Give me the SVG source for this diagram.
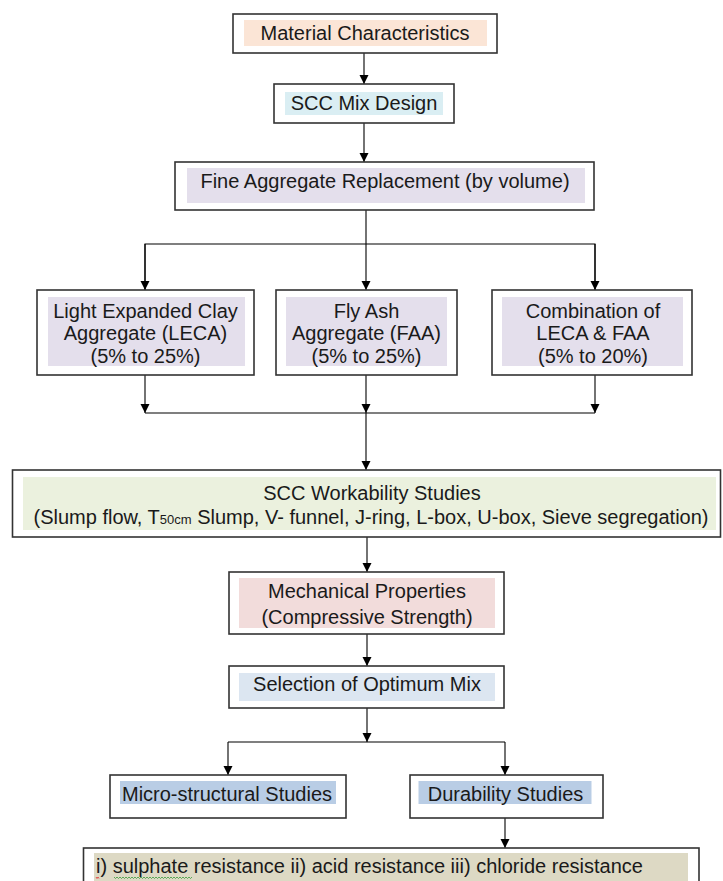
<svg xmlns="http://www.w3.org/2000/svg" width="723" height="881" viewBox="0 0 723 881">
  <defs>
    <marker id="arr" viewBox="0 0 10 10" markerWidth="9" markerHeight="10" markerUnits="userSpaceOnUse" refX="10" refY="5" orient="auto">
      <path d="M0,0 L10,5 L0,10 z" fill="#000"/>
    </marker>
    <style>
      .box { fill: #ffffff; stroke: #333333; stroke-width: 1.6; }
      .t { font-family: "Liberation Sans", Arial, sans-serif; font-size: 20px; fill: #1a1a1a; text-anchor: middle; }
      .c { fill: none; stroke: #000000; stroke-width: 1.1; }
      .ca { fill: none; stroke: #000000; stroke-width: 1.1; marker-end: url(#arr); }
      .peach { fill: #FBE5D6; }
      .lblue { fill: #DAEEF3; }
      .lav { fill: #E4DFEC; }
      .green { fill: #EBF1DE; }
      .pink { fill: #F2DCDB; }
      .sblue { fill: #DCE6F1; }
      .dblue { fill: #B9CDE5; }
      .tan { fill: #DDD9C4; }
    </style>
  </defs>
  <rect width="723" height="881" fill="#ffffff"/>

  <g id="connectors">
    <line class="ca" x1="364" y1="53" x2="364" y2="84"/>
    <line class="ca" x1="364" y1="123" x2="364" y2="162"/>
    <line class="ca" x1="366" y1="210" x2="366" y2="290"/>
    <polyline class="c" points="145,290 145,244 595,244 595,290"/>
    <line class="ca" x1="145" y1="244" x2="145" y2="290"/>
    <line class="ca" x1="595" y1="244" x2="595" y2="290"/>
    <line class="ca" x1="145" y1="375" x2="145" y2="413"/>
    <line class="ca" x1="366" y1="375" x2="366" y2="413"/>
    <line class="ca" x1="595" y1="375" x2="595" y2="413"/>
    <line class="c" x1="145" y1="413" x2="595" y2="413"/>
    <line class="ca" x1="366" y1="413" x2="366" y2="470"/>
    <line class="ca" x1="367" y1="537" x2="367" y2="572"/>
    <line class="ca" x1="367" y1="634" x2="367" y2="666"/>
    <line class="ca" x1="367" y1="708" x2="367" y2="742"/>
    <line class="c" x1="228" y1="742" x2="505" y2="742"/>
    <line class="ca" x1="228" y1="742" x2="228" y2="775"/>
    <line class="ca" x1="505" y1="742" x2="505" y2="775"/>
    <line class="ca" x1="505" y1="818" x2="505" y2="848"/>
  </g>

  <g id="material">
    <rect class="box" x="233" y="14" width="264" height="39"/>
    <rect class="peach" x="244" y="20" width="243" height="26"/>
    <text class="t" x="365" y="40">Material Characteristics</text>
  </g>

  <g id="mix-design">
    <rect class="box" x="274" y="84" width="180" height="39"/>
    <rect class="lblue" x="285" y="92" width="158" height="23"/>
    <text class="t" x="364" y="110">SCC Mix Design</text>
  </g>

  <g id="fine-aggregate">
    <rect class="box" x="175" y="162" width="419" height="48"/>
    <rect class="lav" x="187" y="168" width="398" height="35"/>
    <text class="t" x="385" y="188">Fine Aggregate Replacement (by volume)</text>
  </g>

  <g id="leca">
    <rect class="box" x="37" y="290" width="217" height="85"/>
    <rect class="lav" x="48" y="297" width="197" height="69"/>
    <text class="t" x="145.5" y="318">Light Expanded Clay</text>
    <text class="t" x="145.5" y="340">Aggregate (LECA)</text>
    <text class="t" x="145.5" y="363">(5% to 25%)</text>
  </g>

  <g id="faa">
    <rect class="box" x="276" y="290" width="181" height="85"/>
    <rect class="lav" x="286" y="297" width="161" height="69"/>
    <text class="t" x="366.5" y="318">Fly Ash</text>
    <text class="t" x="366.5" y="340">Aggregate (FAA)</text>
    <text class="t" x="366.5" y="363">(5% to 25%)</text>
  </g>

  <g id="combination">
    <rect class="box" x="492" y="290" width="200" height="85"/>
    <rect class="lav" x="502" y="297" width="181" height="69"/>
    <text class="t" x="593" y="318">Combination of</text>
    <text class="t" x="593" y="340">LECA &amp; FAA</text>
    <text class="t" x="593" y="363">(5% to 20%)</text>
  </g>

  <g id="workability">
    <rect class="box" x="12.5" y="470" width="708" height="67"/>
    <rect class="green" x="23" y="477" width="693" height="53"/>
    <text class="t" x="372" y="500">SCC Workability Studies</text>
    <text class="t" x="371" y="524">(Slump flow, T<tspan font-size="13px">50cm</tspan> Slump, V- funnel, J-ring, L-box, U-box, Sieve segregation)</text>
  </g>

  <g id="mechanical">
    <rect class="box" x="229" y="572" width="275" height="62"/>
    <rect class="pink" x="239" y="578" width="256" height="50"/>
    <text class="t" x="367" y="598">Mechanical Properties</text>
    <text class="t" x="367" y="624">(Compressive Strength)</text>
  </g>

  <g id="selection">
    <rect class="box" x="229" y="666" width="275" height="42"/>
    <rect class="sblue" x="239" y="673" width="256" height="28"/>
    <text class="t" x="367" y="691">Selection of Optimum Mix</text>
  </g>

  <g id="micro">
    <rect class="box" x="110" y="775" width="236" height="43"/>
    <rect class="dblue" x="120" y="781" width="216" height="23"/>
    <text class="t" x="227" y="801">Micro-structural Studies</text>
  </g>

  <g id="durability">
    <rect class="box" x="410" y="775" width="193" height="43"/>
    <rect class="dblue" x="418.5" y="781" width="173" height="23"/>
    <text class="t" x="505.5" y="801">Durability Studies</text>
  </g>

  <g id="resistance">
    <rect class="box" x="83.5" y="848" width="615.5" height="45"/>
    <rect class="tan" x="94" y="853" width="594" height="30"/>
    <text class="t" x="96" y="873" text-anchor="start" style="text-anchor:start">i) sulphate resistance ii) acid resistance iii) chloride resistance</text>
    <path d="M96,877 l1,1.5 l1,-1.5 l1,1.5" fill="none" stroke="#e03030" stroke-width="0.8"/>
    <path d="M114,877 l1.5,1.5 l1.5,-1.5 l1.5,1.5 l1.5,-1.5 l1.5,1.5 l1.5,-1.5 l1.5,1.5 l1.5,-1.5 l1.5,1.5 l1.5,-1.5 l1.5,1.5 l1.5,-1.5 l1.5,1.5 l1.5,-1.5 l1.5,1.5 l1.5,-1.5 l1.5,1.5 l1.5,-1.5 l1.5,1.5 l1.5,-1.5 l1.5,1.5 l1.5,-1.5 l1.5,1.5 l1.5,-1.5 l1.5,1.5 l1.5,-1.5 l1.5,1.5 l1.5,-1.5 l1.5,1.5 l1.5,-1.5 l1.5,1.5 l1.5,-1.5 l1.5,1.5 l1.5,-1.5 l1.5,1.5 l1.5,-1.5 l1.5,1.5 l1.5,-1.5 l1.5,1.5 l1.5,-1.5 l1.5,1.5 l1.5,-1.5 l1.5,1.5 l1.5,-1.5 l1.5,1.5 l1.5,-1.5 l1.5,1.5 l1.5,-1.5 l1.5,1.5 l1.5,-1.5 l1.5,1.5 l1.5,-1.5" fill="none" stroke="#3a9a3a" stroke-width="0.8"/>
  </g>
</svg>
